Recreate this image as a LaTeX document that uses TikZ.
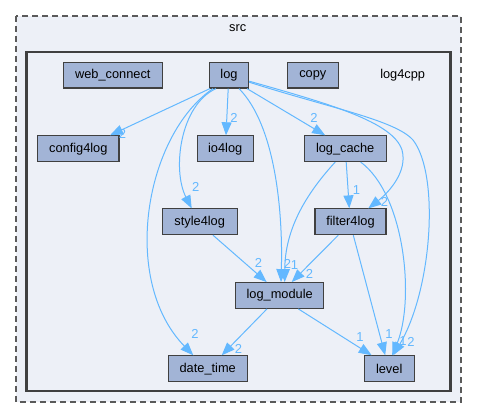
\documentclass[tikz,border=0pt]{standalone}
\usepackage{fontspec}
\setmainfont{Liberation Sans}
\usetikzlibrary{arrows.meta,calc}
\definecolor{edgeblue}{HTML}{63B8FF}
\definecolor{nodefill}{HTML}{A2B4D6}
\definecolor{clusterfill}{HTML}{EDF0F7}
\definecolor{bordergray}{HTML}{404040}
\definecolor{dashgray}{HTML}{5A5A5A}
\tikzset{
  dirbox/.style={draw=bordergray, line width=1.1pt, fill=nodefill, inner sep=0pt,
    minimum height=25.7pt, font=\fontsize{12.8}{15}\selectfont, text=black},
  depedge/.style={draw=edgeblue, line width=1pt, -{Triangle[length=13pt,width=10pt]}},
  numlbl/.style={text=edgeblue, font=\fontsize{13}{15}\selectfont, inner sep=0pt},
  clabel/.style={font=\fontsize{12.8}{15}\selectfont, inner sep=0pt}
}
\begin{document}
\begin{tikzpicture}[x=1pt,y=-1pt]
\useasboundingbox (0,0) rectangle (477,419);
% clusters
\draw[draw=dashgray, line width=1.3pt, fill=clusterfill, dash pattern=on 6pt off 4pt] (16,16) rectangle (461,402);
\node[clabel] (srclbl) at (237.7,27.7) {src};
\draw[draw=bordergray, line width=2.3pt, fill=clusterfill] (26.5,51.7) rectangle (450.5,391);
\node[clabel] (log4cpplbl) at (402.7,74.7) {log4cpp};
% nodes
\node[dirbox, minimum width=99pt] (web) at (112.8,75.2) {web\_connect};
\node[dirbox, minimum width=39.4pt] (log) at (229,75.2) {log};
\node[dirbox, minimum width=51pt] (copy) at (312.8,75.2) {copy};
\node[dirbox, minimum width=81.3pt] (config) at (78.3,148.7) {config4log};
\node[dirbox, minimum width=56.3pt] (io) at (225.2,148.7) {io4log};
\node[dirbox, minimum width=81.7pt] (cache) at (345.2,148.7) {log\_cache};
\node[dirbox, minimum width=74.7pt] (style) at (199.7,221.8) {style4log};
\node[dirbox, minimum width=71pt] (filter) at (350.5,221.8) {filter4log};
\node[dirbox, minimum width=88pt] (module) at (279.7,295.5) {log\_module};
\node[dirbox, minimum width=78.7pt] (date) at (207.7,368.7) {date\_time};
\node[dirbox, minimum width=49.7pt] (level) at (389.2,368.7) {level};
% edges
\draw[depedge] ([xshift=-19pt]log.south) -- ([xshift=31.7pt]config.north);
\draw[depedge] ([xshift=-0.8pt]log.south) -- ([xshift=0.8pt]io.north);
\draw[depedge] ([xshift=18pt]log.south) -- ([xshift=-20pt]cache.north);
\draw[depedge] ([xshift=-13pt]log.south) .. controls (180,105) and (172,170) .. ([xshift=-8pt]style.north);
\draw[depedge] ([xshift=-16pt]log.south) .. controls (145,135) and (120,280) .. ([xshift=-14.4pt]date.north);
\draw[depedge] ([xshift=10pt]log.south) .. controls (275,125) and (283,210) .. ([xshift=1.3pt]module.north);
\draw[depedge] ([yshift=-6pt]log.east) .. controls (330,104) and (393,122) .. (402,150) .. controls (408,172) and (388,193) .. ([xshift=17.8pt]filter.north);
\draw[depedge] ([yshift=-7pt]log.east) .. controls (330,108) and (395,120) .. (413,140) .. controls (440,175) and (432,290) .. ([xshift=4pt]level.north);
\draw[depedge] ([xshift=1pt]cache.south) -- ([xshift=-1.2pt]filter.north);
\draw[depedge] ([xshift=-10pt]cache.south) .. controls (305,195) and (285,230) .. ([xshift=5pt]module.north);
\draw[depedge] ([xshift=15.5pt]cache.south) .. controls (405,195) and (415,300) .. ([xshift=3pt]level.north);
\draw[depedge] ([xshift=13.3pt]style.south) -- ([xshift=-13pt]module.north);
\draw[depedge] ([xshift=-12.2pt]filter.south) -- ([xshift=12pt]module.north);
\draw[depedge] ([xshift=2.8pt]filter.south) -- ([xshift=-4pt]level.north);
\draw[depedge] ([xshift=-12.7pt]module.south) -- ([xshift=14pt]date.north);
\draw[depedge] ([xshift=18.6pt]module.south) -- ([xshift=-17.5pt]level.north);
% edge labels
\node[numlbl] (l1) at (122.5,133.5) {2};
\node[numlbl] (l2) at (234,118) {2};
\node[numlbl] (l3) at (314,118) {2};
\node[numlbl] (l4) at (195.7,187.3) {2};
\node[numlbl] (l5) at (195,334) {2};
\node[numlbl] (l6) at (287.5,264) {2};
\node[numlbl] (l7) at (294.5,265) {1};
\node[numlbl] (l8) at (384.5,202) {2};
\node[numlbl] (l9) at (411,341.5) {2};
\node[numlbl] (l10) at (356.5,190) {1};
\node[numlbl] (l11) at (403,341) {1};
\node[numlbl] (l12) at (258.5,263) {2};
\node[numlbl] (l13) at (309.5,274) {2};
\node[numlbl] (l14) at (389,334.5) {1};
\node[numlbl] (l15) at (238.5,348.5) {2};
\node[numlbl] (l16) at (360,337.5) {1};
\end{tikzpicture}
\end{document}
